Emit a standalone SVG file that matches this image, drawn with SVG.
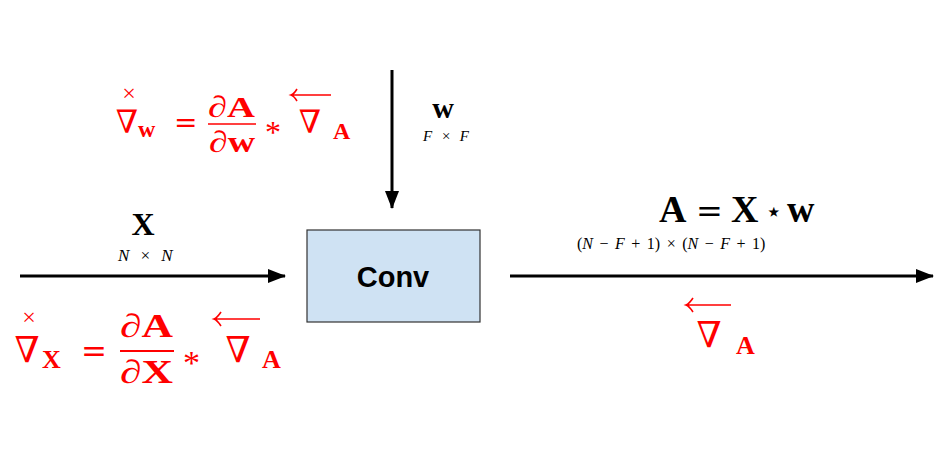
<svg xmlns="http://www.w3.org/2000/svg" width="948" height="469" viewBox="0 0 948 469">
<defs>
<marker id="ah" markerWidth="18" markerHeight="14" refX="17" refY="7" orient="auto" markerUnits="userSpaceOnUse">
<path d="M0,0 L18,7 L0,14 Z" fill="#000"/>
</marker>
<style>
.m{font-family:"Liberation Serif","DejaVu Serif",serif;}
.d{font-family:"DejaVu Serif","Liberation Serif",serif;}
.b{font-weight:bold;}
.i{font-style:italic;}
.r{fill:#ff0000;}
.k{fill:#000;}
.acc{stroke:#ff0000;stroke-width:1.6;fill:none;}
</style>
</defs>
<rect width="948" height="469" fill="#fff"/>
<g id="connectors" stroke="#000" stroke-width="3" fill="none">
<line x1="20" y1="276" x2="285" y2="276" marker-end="url(#ah)"/>
<line x1="392" y1="70" x2="392" y2="208" marker-end="url(#ah)"/>
<line x1="510" y1="276" x2="933" y2="276" marker-end="url(#ah)"/>
</g>
<g id="conv">
<rect x="307" y="230" width="173" height="92" fill="#cfe2f3" stroke="#333" stroke-width="1.2"/>
<text x="393" y="287" text-anchor="middle" font-family="Liberation Sans, Arial, sans-serif" font-weight="bold" font-size="29" fill="#000">Conv</text>
</g>
<g id="input-x">
<text class="m b k" x="143" y="235" text-anchor="middle" font-size="32">X</text>
<text class="m i k" x="118" y="261" font-size="17" word-spacing="6">N × N</text>
</g>
<g id="weight-w">
<text class="m b k" x="443" y="118" text-anchor="middle" font-size="30">w</text>
<text class="m i k" x="423" y="141" font-size="15" word-spacing="5">F × F</text>
</g>
<g id="output-a">
<text class="m b k" x="659" y="222" font-size="38">A</text>
<text class="d k" x="696" y="222" font-size="32">=</text>
<text class="m b k" x="731" y="222" font-size="38">X</text>
<text class="d k" x="765" y="221" font-size="28">⋆</text>
<text class="m b k" x="787" y="222" font-size="38">w</text>
<text class="m k" x="577" y="249" font-size="16" word-spacing="2.5">(<tspan font-style="italic">N</tspan> − <tspan font-style="italic">F</tspan> + 1) × (<tspan font-style="italic">N</tspan> − <tspan font-style="italic">F</tspan> + 1)</text>
</g>
<g id="grad-w">
<text class="m r" x="129" y="101" text-anchor="middle" font-size="24">×</text>
<text class="m r" x="127" y="133" text-anchor="middle" font-size="32">∇</text>
<text class="m b r" x="138" y="137" font-size="24">w</text>
<text class="d r" x="174" y="132" font-size="28">=</text>
<text class="m r" x="208" y="117" font-size="30" textLength="47" lengthAdjust="spacingAndGlyphs">∂<tspan font-weight="bold">A</tspan></text>
<line x1="208" y1="124" x2="256" y2="124" stroke="#ff0000" stroke-width="1.6"/>
<text class="m r" x="209" y="152" font-size="30" textLength="46" lengthAdjust="spacingAndGlyphs">∂<tspan font-weight="bold">w</tspan></text>
<text class="m r" x="265" y="143" font-size="32">*</text>
<path class="acc" d="M331,95 L291,95 M297,89 Q294,94 291,95 Q294,96 297,101"/>
<text class="m r" x="310" y="133" text-anchor="middle" font-size="32">∇</text>
<text class="m b r" x="333" y="139" font-size="24">A</text>
</g>
<g id="grad-x">
<text class="m r" x="29" y="325" text-anchor="middle" font-size="24">×</text>
<text class="m r" x="27" y="362" text-anchor="middle" font-size="36">∇</text>
<text class="m b r" x="42" y="368" font-size="26">X</text>
<text class="d r" x="81" y="362" font-size="31">=</text>
<text class="m r" x="120" y="337" font-size="33" textLength="53" lengthAdjust="spacingAndGlyphs">∂<tspan font-weight="bold">A</tspan></text>
<line x1="120" y1="351" x2="174" y2="351" stroke="#ff0000" stroke-width="1.8"/>
<text class="m r" x="120" y="383" font-size="33" textLength="53" lengthAdjust="spacingAndGlyphs">∂<tspan font-weight="bold">X</tspan></text>
<text class="m r" x="183" y="374" font-size="34">*</text>
<path class="acc" d="M260,319 L214,319 M221,312 Q217,318 214,319 Q217,320 221,326"/>
<text class="m r" x="238" y="362" text-anchor="middle" font-size="36">∇</text>
<text class="m b r" x="262" y="368" font-size="26">A</text>
</g>
<g id="grad-a">
<path class="acc" d="M731,305 L686,305 M693,298 Q689,304 686,305 Q689,306 693,312"/>
<text class="m r" x="709" y="347" text-anchor="middle" font-size="36">∇</text>
<text class="m b r" x="736" y="354" font-size="26">A</text>
</g>
</svg>
